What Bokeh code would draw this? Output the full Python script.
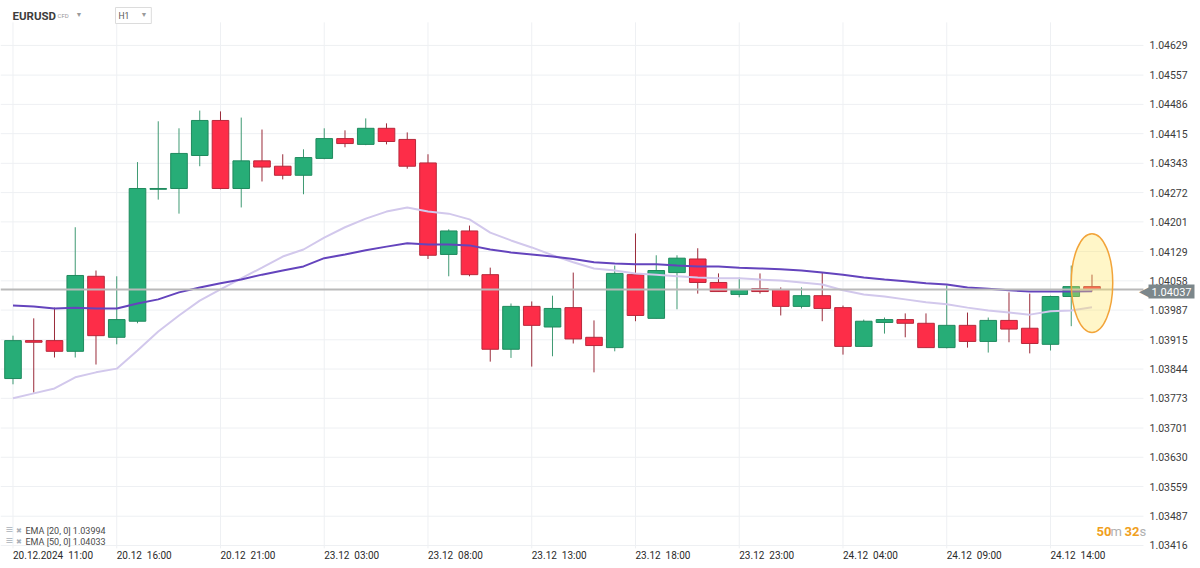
from bokeh.plotting import figure
from bokeh.models import Range1d, Label, ColumnDataSource
from bokeh.core.properties import value
from bokeh.embed import file_html
from bokeh.resources import INLINE

# ---------------- data ----------------
time_labels = ["20.12.2024 \u00a011:00", "20.12 \u00a016:00", "20.12 \u00a021:00",
               "23.12 \u00a003:00", "23.12 \u00a008:00", "23.12 \u00a013:00",
               "23.12 \u00a018:00", "23.12 \u00a023:00", "24.12 \u00a004:00",
               "24.12 \u00a009:00", "24.12 \u00a014:00"]
label_index = [0, 5, 10, 15, 20, 25, 30, 35, 40, 45, 50]

opens = [1.03821, 1.03913, 1.03913, 1.03887, 1.04069, 1.03921, 1.03960, 1.04280, 1.04282, 1.04362,
         1.04447, 1.04282, 1.04349, 1.04336, 1.04314, 1.04355, 1.04403, 1.04389, 1.04428, 1.04401,
         1.04344, 1.04122, 1.04179, 1.04073, 1.03892, 1.03996, 1.03946, 1.03993, 1.03921, 1.03896,
         1.04073, 1.03967, 1.04078, 1.04111, 1.04054, 1.04025, 1.04039, 1.04037, 1.03996, 1.04022,
         1.03993, 1.03899, 1.03957, 1.03964, 1.03955, 1.03896, 1.03950, 1.03911, 1.03962, 1.03943,
         1.03904, 1.04020, 1.04044]
highs = [1.03925, 1.03967, 1.03993, 1.04188, 1.04083, 1.04069, 1.04346, 1.04445, 1.04428, 1.04471,
         1.04469, 1.04454, 1.04425, 1.04365, 1.04377, 1.04428, 1.04423, 1.04452, 1.04440, 1.04418,
         1.04365, 1.04183, 1.04192, 1.04090, 1.04003, 1.04008, 1.04022, 1.04078, 1.03962, 1.04095,
         1.04173, 1.04120, 1.04120, 1.04137, 1.04076, 1.04066, 1.04076, 1.04042, 1.04042, 1.04078,
         1.03998, 1.03964, 1.03969, 1.03979, 1.03979, 1.04047, 1.03981, 1.03969, 1.04030, 1.04027,
         1.04022, 1.04095, 1.04073]
lows = [1.03807, 1.03787, 1.03872, 1.03872, 1.03855, 1.03904, 1.03955, 1.04255, 1.04221, 1.04336,
        1.04280, 1.04236, 1.04299, 1.04304, 1.04268, 1.04353, 1.04382, 1.04387, 1.04389, 1.04330,
        1.04111, 1.04069, 1.04069, 1.03862, 1.03871, 1.03850, 1.03875, 1.03906, 1.03836, 1.03887,
        1.03960, 1.03967, 1.03989, 1.04027, 1.04032, 1.04018, 1.04027, 1.03974, 1.03991, 1.03960,
        1.03879, 1.03899, 1.03930, 1.03921, 1.03896, 1.03894, 1.03896, 1.03884, 1.03909, 1.03882,
        1.03889, 1.03948, 1.04032]
closes = [1.03913, 1.03909, 1.03887, 1.04071, 1.03925, 1.03964, 1.04282, 1.04282, 1.04367, 1.04447,
          1.04282, 1.04349, 1.04334, 1.04314, 1.04357, 1.04403, 1.04391, 1.04428, 1.04396, 1.04336,
          1.04120, 1.04179, 1.04073, 1.03892, 1.03996, 1.03950, 1.03991, 1.03917, 1.03901, 1.04076,
          1.03974, 1.04083, 1.04113, 1.04054, 1.04032, 1.04037, 1.04032, 1.03996, 1.04022, 1.03991,
          1.03899, 1.03960, 1.03964, 1.03955, 1.03896, 1.03950, 1.03911, 1.03962, 1.03941, 1.03906,
          1.04020, 1.04044, 1.04037]

ema20 = [1.03773, 1.03785, 1.03797, 1.03824, 1.03836, 1.03845, 1.03889, 1.03935, 1.03974, 1.04010,
         1.04037, 1.04064, 1.04090, 1.04117, 1.04134, 1.04163, 1.04188, 1.04209, 1.04226, 1.04236,
         1.04226, 1.04221, 1.04207, 1.04175, 1.04156, 1.04139, 1.04120, 1.04103, 1.04088, 1.04083,
         1.04076, 1.04073, 1.04069, 1.04066, 1.04064, 1.04064, 1.04061, 1.04059, 1.04054, 1.04049,
         1.04035, 1.04025, 1.04020, 1.04013, 1.04006, 1.04001, 1.03993, 1.03986, 1.03981, 1.03976,
         1.03984, 1.03986, 1.03994]
ema50 = [1.03998, 1.03996, 1.03991, 1.03993, 1.03991, 1.03991, 1.04003, 1.04013, 1.04030, 1.04042,
         1.04052, 1.04061, 1.04073, 1.04083, 1.04093, 1.04113, 1.04122, 1.04132, 1.04141, 1.04149,
         1.04146, 1.04146, 1.04144, 1.04134, 1.04127, 1.04122, 1.04117, 1.04111, 1.04103, 1.04100,
         1.04098, 1.04098, 1.04095, 1.04093, 1.04093, 1.04090, 1.04088, 1.04086, 1.04083, 1.04078,
         1.04073, 1.04066, 1.04061, 1.04057, 1.04052, 1.04049, 1.04042, 1.04039, 1.04035, 1.04032,
         1.04032, 1.04032, 1.04033]

price_ticks = [1.04629, 1.04557, 1.04486, 1.04415, 1.04343, 1.04272, 1.04201, 1.04129, 1.04058,
               1.03987, 1.03915, 1.03844, 1.03773, 1.03701, 1.03630, 1.03559, 1.03487, 1.03416]
last_price = 1.04037
ema_names = ["EMA [20, 0]", "EMA [50, 0]"]
symbol = "EURUSD"
timeframe = "H1"
countdown = ("50", "m", "32", "s")

# ---------------- styling / layout ----------------
GREEN = "#27ad77"
GREEN_LINE = "#1f8a5e"
GREEN_WICK = "#3f9a73"
RED = "#fd2d48"
RED_LINE = "#b8283b"
RED_WICK = "#9a2b3a"
GRID = "#eef0f3"
FONT = "Roboto"

W, H = 1200, 568
X0, Y_TOP, Y_BOT = -0.6024, 1.04738, 1.033602     # frame covers the whole canvas
X1 = X0 + W / 20.75
GRID_TOP, GRID_BOT = 1.04685, 1.03409                # vertical grid extent
GRID_RIGHT = 54.48                                   # horizontal grid stops before price scale
SCALE_X = 54.77                                      # price-scale label column
TIME_Y = 1.033917                                    # time-label row

idx = list(range(len(opens)))
up = [c >= o for o, c in zip(opens, closes)]
src = ColumnDataSource(dict(
    x=idx,
    top=[max(o, c) for o, c in zip(opens, closes)],
    bottom=[min(o, c) for o, c in zip(opens, closes)],
    high=highs, low=lows,
    fill=[GREEN if u else RED for u in up],
    line=[GREEN_LINE if u else RED_LINE for u in up],
    wick=[GREEN_WICK if u else RED_WICK for u in up],
))

p = figure(width=W, height=H, output_backend="svg", toolbar_location=None,
           x_range=Range1d(X0, X1), y_range=Range1d(Y_BOT, Y_TOP),
           x_axis_location=None, y_axis_location=None)
p.min_border = 0
p.outline_line_color = None
p.background_fill_color = "white"
p.border_fill_color = "white"
p.grid.visible = False

# grid lines (from the tick arrays)
p.segment(x0=X0, x1=GRID_RIGHT, y0=price_ticks, y1=price_ticks, line_color=GRID, line_width=1)
p.segment(x0=label_index, x1=label_index, y0=GRID_BOT, y1=GRID_TOP, line_color=GRID, line_width=1)

# price scale labels
p.text(x=SCALE_X, y=price_ticks, text=[f"{t:.5f}" for t in price_ticks],
       text_font=value(FONT), text_font_size="10.5px", text_color="#3c3c3c",
       text_align="left", text_baseline="middle")

# time labels
p.text(x=label_index, y=TIME_Y, text=time_labels,
       text_font=value(FONT), text_font_size="10px", text_color="#2a2a2a",
       text_align="left", text_baseline="middle")

# candles
p.segment(x0="x", x1="x", y0="low", y1="high", source=src, line_color="wick", line_width=1)
p.vbar(x="x", width=0.8, top="top", bottom="bottom", source=src,
       fill_color="fill", line_color="line", line_width=1)

# EMAs
p.line(idx, ema20, line_color="#d2c8ec", line_width=2)
p.line(idx, ema50, line_color="#6444bd", line_width=2)

# current price line (stops at the price scale)
p.segment(x0=X0, x1=GRID_RIGHT, y0=last_price, y1=last_price, line_color="#b9b9b9", line_width=2)

# highlight ellipse on the last candle
p.ellipse(x=[idx[-1]], y=[(highs[-1] + lows[-1]) / 2], width=2.0, height=0.0024,
          fill_color="#ffe562", fill_alpha=0.35, line_color="#f2a43a", line_width=1.5)


def lab(x, y, text, size, color, style="normal", align="left", **kw):
    p.add_layout(Label(x=x, y=H - y, x_units="screen", y_units="screen", text=text,
                       text_font=FONT, text_font_size=size, text_color=color,
                       text_font_style=style, text_align=align, text_baseline="middle", **kw))


# header
lab(12, 15, symbol, "11.5px", "#3d3d3d", "bold")
lab(57, 15, "CFD", "6px", "#9a9a9a")
lab(75, 14, "\u25bc", "7px", "#9a9a9a")
lab(115, 15, timeframe + "\u00a0" * 9, "8.5px", "#555555",
    border_line_color="#dcdcdc", background_fill_color="white", padding=3)
lab(140, 14, "\u25bc", "7px", "#9a9a9a")

# legend
lab(5, 529, "\u2261", "13px", "#a9b0b8")
lab(15, 530, "\u2716", "7px", "#a9b0b8")
lab(25, 530, f"{ema_names[0]} {ema20[-1]:.5f}", "9px", "#4a4a4a")
lab(5, 540, "\u2261", "13px", "#a9b0b8")
lab(15, 541, "\u2716", "7px", "#a9b0b8")
lab(25, 541, f"{ema_names[1]} {ema50[-1]:.5f}", "9px", "#4a4a4a")

# countdown
lab(1096, 531, countdown[0], "13px", "#f0a020", "bold")
lab(1110, 531, countdown[1], "13px", "#b0b0b0")
lab(1124, 531, countdown[2], "13px", "#f0a020", "bold")
lab(1139, 531, countdown[3], "13px", "#b0b0b0")

# price tag
lab(1138, 290, "\u25c0", "14px", "#7c878b")
lab(1148, 291, f"{last_price:.5f}", "11px", "white",
    background_fill_color="#7c878b", padding=3)

open("out.html", "w").write(file_html(p, INLINE))
